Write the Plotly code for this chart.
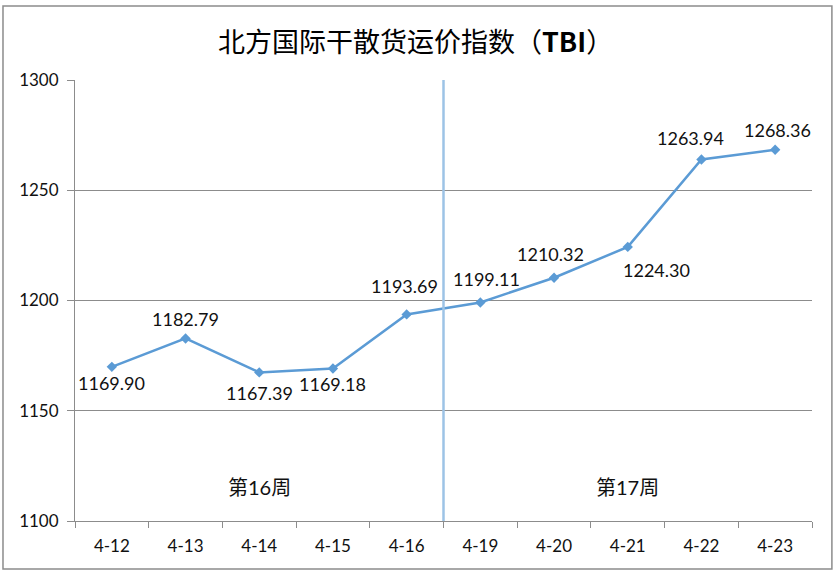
import plotly.graph_objects as go

categories = ["4-12", "4-13", "4-14", "4-15", "4-16", "4-19", "4-20", "4-21", "4-22", "4-23"]
values = [1169.90, 1182.79, 1167.39, 1169.18, 1193.69, 1199.11, 1210.32, 1224.30, 1263.94, 1268.36]
week_labels = ["第16周", "第17周"]
week_centers = ["4-14", "4-21"]
y_ticks = [1100, 1150, 1200, 1250, 1300]

# label offsets (px) for data labels
label_offsets = [(0, -16), (0, 19), (0, -21), (0, -16), (-2, 28),
                 (6, 23), (-4, 24), (29, -23), (-11, 22), (2, 20)]

num_font = "Lato, 'Noto Sans CJK SC', sans-serif"
cjk_font = "'Noto Sans CJK SC', sans-serif"

fig = go.Figure()
fig.add_trace(go.Scatter(
    x=categories, y=values, mode="lines+markers",
    line=dict(color="#5B9BD5", width=2.5),
    marker=dict(symbol="diamond", size=8, color="#5B9BD5"),
    hoverinfo="x+y", showlegend=False,
))

annotations = []
for c, v, (dx, dy) in zip(categories, values, label_offsets):
    annotations.append(dict(
        x=c, y=v, xref="x", yref="y", text=f"{v:.2f}", showarrow=False,
        xshift=dx, yshift=dy, font=dict(family=num_font, size=18, color="#111111"),
    ))
for t, c in zip(week_labels, week_centers):
    annotations.append(dict(
        x=c, y=0.077, xref="x", yref="paper", text=t, showarrow=False,
        yanchor="middle", xanchor="center",
        font=dict(family=num_font, size=20, color="#111111"),
    ))
annotations.append(dict(
    x=0.462, y=1.09, xref="paper", yref="paper", text="北方国际干散货运价指数（<b>TBI</b>）",
    showarrow=False, yanchor="middle", xanchor="center",
    font=dict(family=cjk_font, size=27, color="#000000"),
))

shapes = [
    dict(type="line", xref="x", yref="paper", x0=4.5, x1=4.5, y0=0, y1=1,
         line=dict(color="#9DC3E6", width=2.5)),
    dict(type="rect", xref="paper", yref="paper", x0=-0.0977, x1=1.027, y0=-0.1088, y1=1.1678,
         line=dict(color="#8c8c8c", width=1.5), layer="below"),
]

fig.update_layout(
    width=839, height=573,
    margin=dict(l=75, r=27, t=80, b=52),
    paper_bgcolor="white", plot_bgcolor="white",
    annotations=annotations, shapes=shapes,
    xaxis=dict(
        type="category", tickson="boundaries", ticks="outside", ticklen=6,
        tickcolor="#8c8c8c", showline=True, linecolor="#8c8c8c", linewidth=1,
        showgrid=False, tickfont=dict(family=num_font, size=17, color="#111111"),
        range=[-0.5, 9.5], fixedrange=True, automargin=False, ticklabelstandoff=10,
    ),
    yaxis=dict(
        range=[1100, 1300], tickvals=y_ticks, ticks="outside", ticklen=7,
        tickcolor="#8c8c8c", showline=True, linecolor="#8c8c8c", linewidth=1,
        showgrid=True, gridcolor="#8c8c8c", gridwidth=1, zeroline=False,
        tickfont=dict(family=num_font, size=17, color="#111111"),
        fixedrange=True, automargin=False, ticklabelstandoff=5,
    ),
)

fig.write_html("out.html", config={"displayModeBar": False},
               post_script="document.body.style.margin='0';document.body.style.overflow='hidden';")
